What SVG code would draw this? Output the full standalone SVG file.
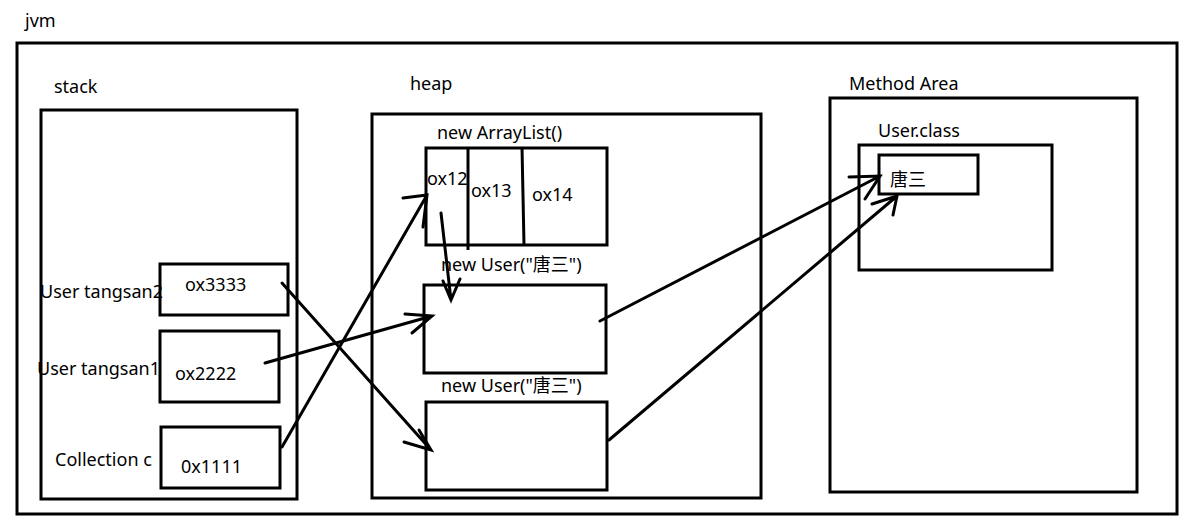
<svg xmlns="http://www.w3.org/2000/svg" width="1192" height="521" viewBox="0 0 1192 521">
<style>
.box{fill:none;stroke:#000;stroke-width:3}
.ln{fill:none;stroke:#000;stroke-width:3;stroke-linecap:round}
text{font-family:"Noto Sans","Noto Sans CJK SC",sans-serif;font-size:18px;fill:#000}
</style>
<rect width="1192" height="521" fill="#fff"/>
<g id="jvm">
<text x="25" y="27">jvm</text>
<rect class="box" x="17" y="43" width="1160" height="471"/>
</g>
<g id="stack">
<text x="54" y="93">stack</text>
<rect class="box" x="41" y="110" width="256" height="389"/>
</g>
<g id="tangsan2">
<text x="40" y="298">User tangsan2</text>
<rect class="box" x="160" y="264" width="128" height="51"/>
<text x="185" y="291">ox3333</text>
</g>
<g id="tangsan1">
<text x="37" y="375">User tangsan1</text>
<rect class="box" x="160" y="331" width="119" height="71"/>
<text x="175" y="380">ox2222</text>
</g>
<g id="collection">
<text x="55" y="466">Collection c</text>
<rect class="box" x="161" y="427" width="119" height="61"/>
<text x="181" y="473">0x1111</text>
</g>
<g id="heap">
<text x="410" y="90">heap</text>
<rect class="box" x="372" y="114" width="389" height="384"/>
</g>
<g id="arraylist">
<text x="437" y="139">new ArrayList()</text>
<rect class="box" x="426" y="148" width="181" height="97"/>
<line class="box" x1="468" y1="147" x2="468" y2="250"/>
<line class="box" x1="522" y1="147" x2="524" y2="245"/>
<text x="427" y="185">ox12</text>
<text x="471" y="197">ox13</text>
<text x="532" y="201">ox14</text>
</g>
<g id="user1">
<text x="441" y="271">new User("唐三")</text>
<rect class="box" x="424" y="285" width="182" height="88"/>
</g>
<g id="user2">
<text x="441" y="392">new User("唐三")</text>
<rect class="box" x="426" y="402" width="181" height="88"/>
</g>
<g id="methodarea">
<text x="849" y="90">Method Area</text>
<rect class="box" x="830" y="98" width="307" height="394"/>
</g>
<g id="userclass">
<text x="878" y="137">User.class</text>
<rect class="box" x="859" y="145" width="193" height="125"/>
<rect class="box" x="879" y="155" width="99" height="39"/>
<text x="890" y="186">唐三</text>
</g>
<g id="connectors">
<path class="ln" d="M282 283 L431 450 M404 442 L431 450 L419 430"/>
<path class="ln" d="M265 363 L432 316 M405 314 L432 316 L412 333"/>
<path class="ln" d="M282 447 L427 195 M403 198 L427 195 L423 227"/>
<path class="ln" d="M441 213 L451 300 M443 281 L451 300 L460 279"/>
<path class="ln" d="M600 321 L880 176 M849 177 L880 176 L865 199"/>
<path class="ln" d="M609 440 L897 196 M872 204 L897 196 L893 215"/>
</g>
</svg>
